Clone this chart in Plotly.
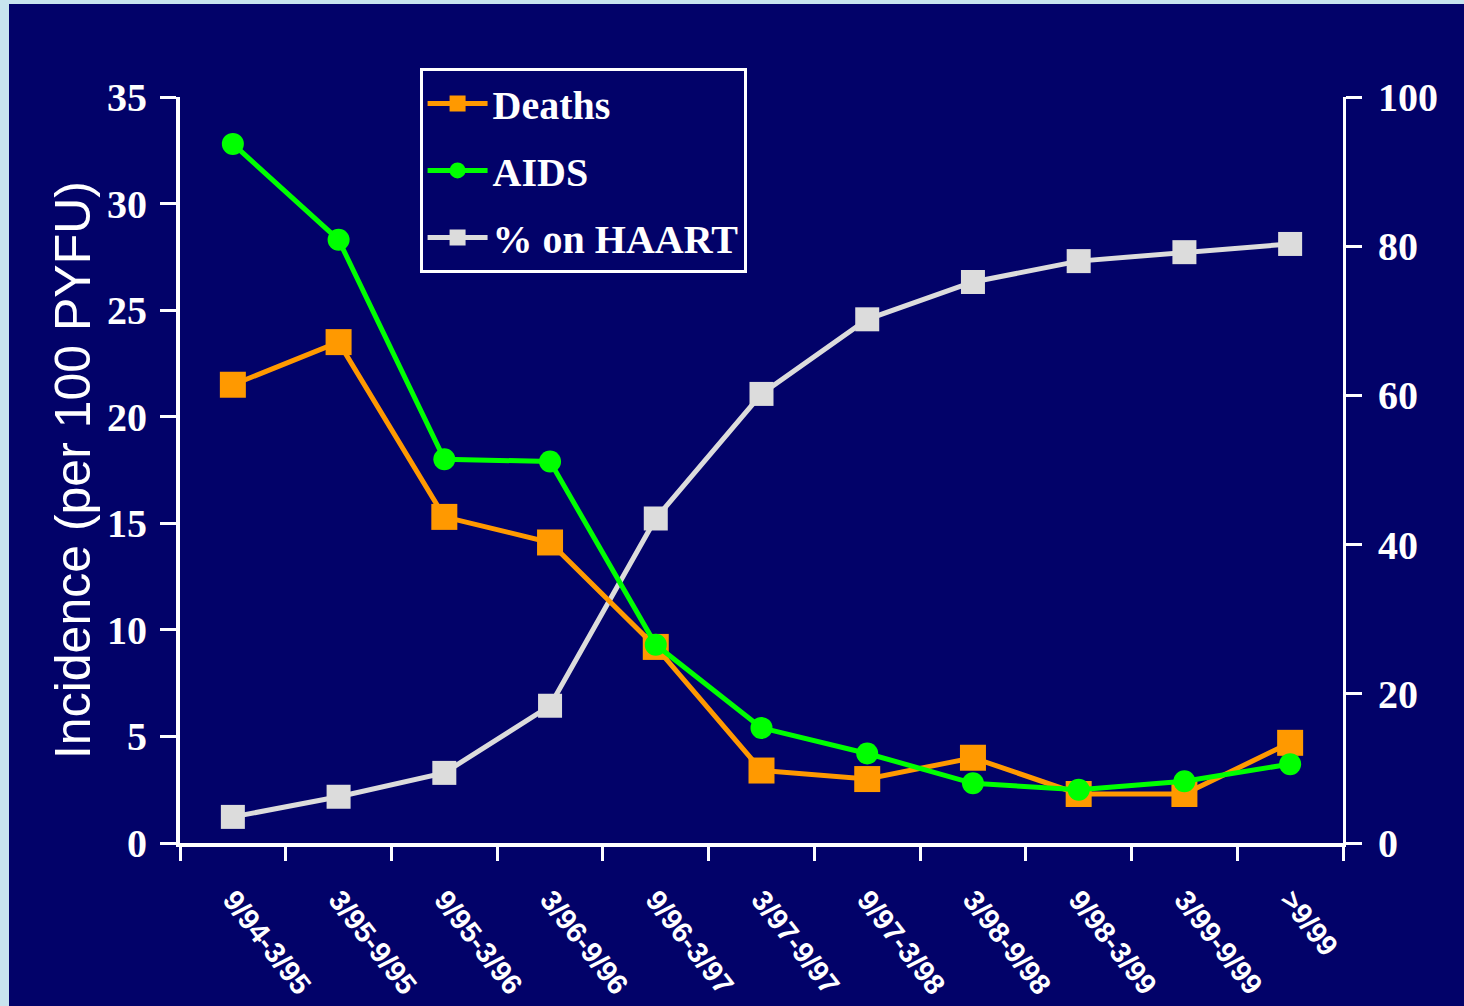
import plotly.graph_objects as go

periods = ["9/94-3/95", "3/95-9/95", "9/95-3/96", "3/96-9/96", "9/96-3/97", "3/97-9/97",
           "9/97-3/98", "3/98-9/98", "9/98-3/99", "3/99-9/99", ">9/99"]
deaths = [21.5, 23.5, 15.3, 14.1, 9.2, 3.4, 3.0, 4.0, 2.3, 2.3, 4.7]
aids = [32.8, 28.3, 18.0, 17.9, 9.3, 5.4, 4.2, 2.8, 2.5, 2.9, 3.7]
haart = [3.5, 6.2, 9.4, 18.4, 43.5, 60.2, 70.2, 75.2, 78.0, 79.2, 80.3]

navy = "#020269"
serif = dict(family="Liberation Serif", color="white", size=40, weight="bold")

fig = go.Figure()

# % on HAART lives on the primary (right-hand) axis so it is drawn underneath
fig.add_trace(go.Scatter(
    x=periods, y=haart, name="% on HAART", mode="lines+markers",
    line=dict(color="#dcdcdc", width=5),
    marker=dict(symbol="square", size=24, color="#dcdcdc"),
    yaxis="y", legendrank=3, legendgroup="c"))
fig.add_trace(go.Scatter(
    x=periods, y=deaths, name="Deaths", mode="lines+markers",
    line=dict(color="#ff9900", width=5),
    marker=dict(symbol="square", size=26, color="#ff9900"),
    yaxis="y2", legendrank=1, legendgroup="a"))
fig.add_trace(go.Scatter(
    x=periods, y=aids, name="AIDS", mode="lines+markers",
    line=dict(color="#00ff00", width=5),
    marker=dict(symbol="circle", size=22, color="#00ff00"),
    yaxis="y2", legendrank=2, legendgroup="b"))

fig.update_layout(
    width=1464, height=1006,
    margin=dict(l=180, r=121, t=97, b=163),
    paper_bgcolor="#c8e4ee",
    plot_bgcolor=navy,
    showlegend=True,
    legend=dict(x=0.206, y=1.039, xanchor="left", yanchor="top",
                bgcolor=navy, bordercolor="white", borderwidth=3,
                font=serif, tracegroupgap=12, itemwidth=60),
    xaxis=dict(type="category", range=[-0.5, 10.5], tickson="boundaries", automargin=False,
               ticks="outside", ticklen=14, tickwidth=3, tickcolor="white",
               showline=True, linecolor="white", linewidth=4, showgrid=False,
               tickangle=52, ticklabelstandoff=24,
               tickfont=dict(family="Liberation Sans", size=29, color="white", weight="bold")),
    yaxis=dict(side="right", range=[0, 100], tickvals=[0, 20, 40, 60, 80, 100], automargin=False,
               ticks="outside", ticklen=16, tickwidth=3, tickcolor="white",
               showline=True, linecolor="white", linewidth=3, showgrid=False,
               zeroline=False, tickfont=serif, ticklabelstandoff=8),
    yaxis2=dict(side="left", overlaying="y", range=[0, 35], dtick=5, automargin=False,
                ticks="outside", ticklen=16, tickwidth=3, tickcolor="white",
                showline=True, linecolor="white", linewidth=4, showgrid=False,
                zeroline=False, tickfont=serif, ticklabelstandoff=5,
                title=dict(text="Incidence (per 100 PYFU)", standoff=2,
                           font=dict(family="Liberation Sans", size=50, color="white"))),
    shapes=[dict(type="rect", xref="paper", yref="paper", layer="below",
                 x0=-171 / 1163, x1=1.2, y0=-0.3, y1=1 + 93 / 746,
                 fillcolor=navy, line=dict(width=0))],
)

# drop the browser's default page margin so the figure sits at the window's corner
fig.write_html("out.html", config={"displayModeBar": False},
               post_script="document.body.style.margin='0';")
